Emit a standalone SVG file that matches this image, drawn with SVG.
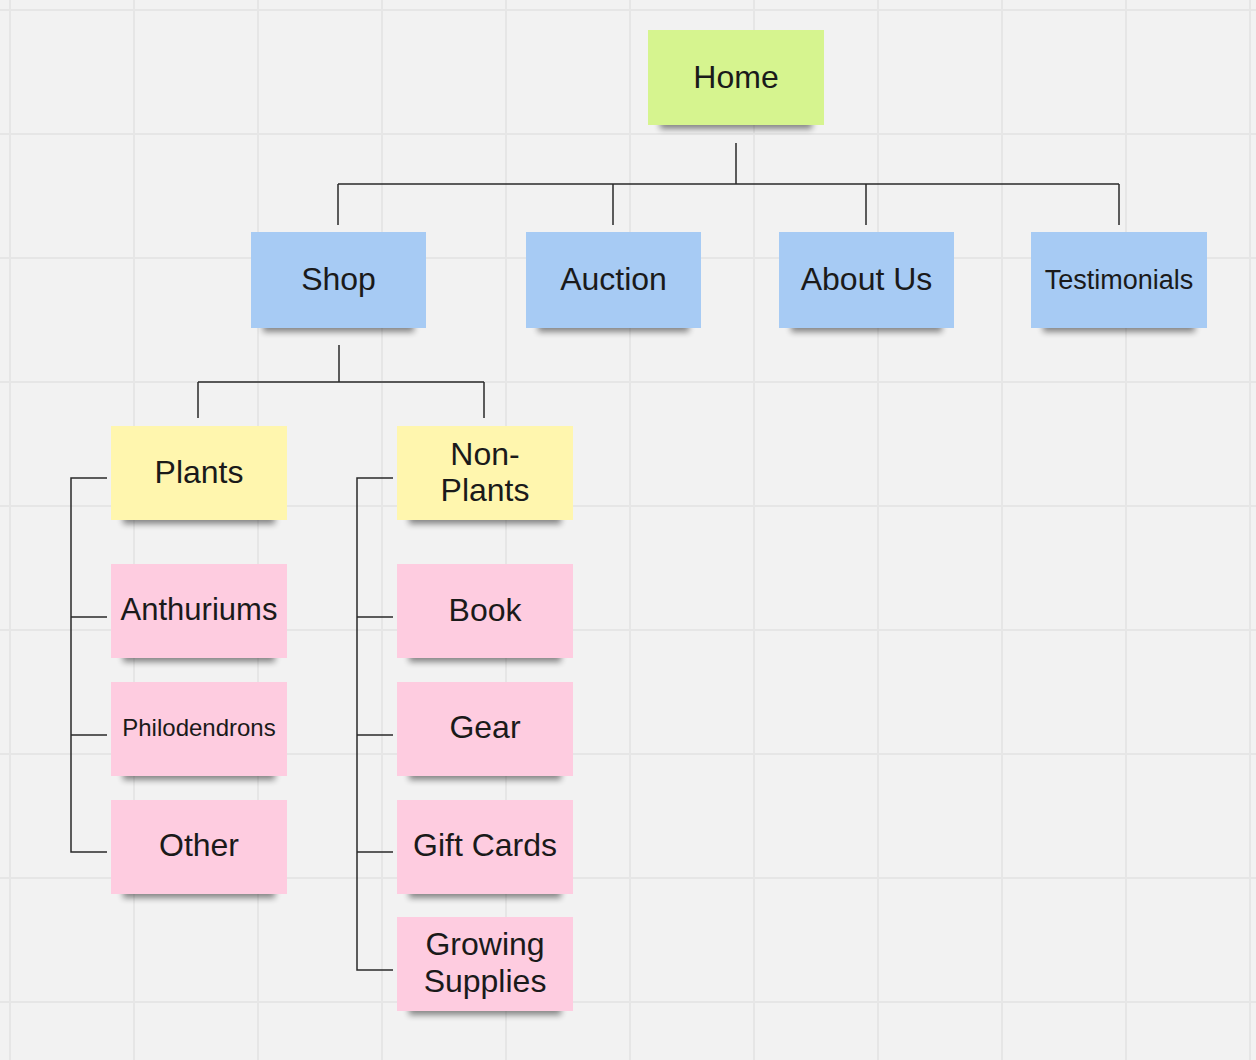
<svg xmlns="http://www.w3.org/2000/svg" width="1256" height="1060" viewBox="0 0 1256 1060">
<defs>
<filter id="sh" x="-20%" y="-100%" width="140%" height="300%"><feGaussianBlur stdDeviation="3"/></filter>
<style>
.bg{fill:#f2f2f2}
.grid{stroke:#e6e6e6;stroke-width:2}
.conn{fill:none;stroke:#2a2a2a;stroke-width:1.5}
.shadow{fill:#000;opacity:0.45;filter:url(#sh)}
.green{fill:#d6f48f}
.blue{fill:#a7cbf4}
.yellow{fill:#fff6ae}
.pink{fill:#fecce0}
text{font-family:"Liberation Sans",Arial,sans-serif;fill:#1a1a1a;text-anchor:middle;font-size:32px}
</style>
</defs>
<rect class="bg" width="1256" height="1060"/>
<g id="grid">
<path class="grid" d="M10 0V1060M134 0V1060M258 0V1060M382 0V1060M506 0V1060M630 0V1060M754 0V1060M878 0V1060M1002 0V1060M1126 0V1060M1250 0V1060M0 10H1256M0 134H1256M0 258H1256M0 382H1256M0 506H1256M0 630H1256M0 754H1256M0 878H1256M0 1002H1256"/>
</g>
<g id="connectors">
<path class="conn" d="M736 143V184M338 184H1119M338 184V225M613 184V225M866 184V225M1119 184V225"/>
<path class="conn" d="M339 345V382M198 382H484M198 382V418M484 382V418"/>
<path class="conn" d="M107 478H71V852H107M71 617H107M71 735H107"/>
<path class="conn" d="M393 478H357V970H393M357 617H393M357 735H393M357 852H393"/>
</g>
<g id="home"><rect class="shadow" x="660" y="115" width="152" height="14"/><rect class="green" x="648" y="30" width="176" height="95"/><text x="736" y="88">Home</text></g>
<g id="shop"><rect class="shadow" x="263" y="318" width="151" height="14"/><rect class="blue" x="251" y="232" width="175" height="96"/><text x="338.5" y="290">Shop</text></g>
<g id="auction"><rect class="shadow" x="538" y="318" width="151" height="14"/><rect class="blue" x="526" y="232" width="175" height="96"/><text x="613.5" y="290">Auction</text></g>
<g id="about-us"><rect class="shadow" x="791" y="318" width="151" height="14"/><rect class="blue" x="779" y="232" width="175" height="96"/><text x="866.5" y="290">About Us</text></g>
<g id="testimonials"><rect class="shadow" x="1043" y="318" width="152" height="14"/><rect class="blue" x="1031" y="232" width="176" height="96"/><text x="1119" y="289" style="font-size:27px">Testimonials</text></g>
<g id="plants"><rect class="shadow" x="123" y="510" width="152" height="14"/><rect class="yellow" x="111" y="426" width="176" height="94"/><text x="199" y="483">Plants</text></g>
<g id="anthuriums"><rect class="shadow" x="123" y="648" width="152" height="14"/><rect class="pink" x="111" y="564" width="176" height="94"/><text x="199" y="620" style="font-size:31px">Anthuriums</text></g>
<g id="philodendrons"><rect class="shadow" x="123" y="766" width="152" height="14"/><rect class="pink" x="111" y="682" width="176" height="94"/><text x="199" y="736" style="font-size:24px">Philodendrons</text></g>
<g id="other"><rect class="shadow" x="123" y="884" width="152" height="14"/><rect class="pink" x="111" y="800" width="176" height="94"/><text x="199" y="856">Other</text></g>
<g id="non-plants"><rect class="shadow" x="409" y="510" width="152" height="14"/><rect class="yellow" x="397" y="426" width="176" height="94"/><text x="485" y="465">Non-</text><text x="485" y="501">Plants</text></g>
<g id="book"><rect class="shadow" x="409" y="648" width="152" height="14"/><rect class="pink" x="397" y="564" width="176" height="94"/><text x="485" y="621">Book</text></g>
<g id="gear"><rect class="shadow" x="409" y="766" width="152" height="14"/><rect class="pink" x="397" y="682" width="176" height="94"/><text x="485" y="738">Gear</text></g>
<g id="gift-cards"><rect class="shadow" x="409" y="884" width="152" height="14"/><rect class="pink" x="397" y="800" width="176" height="94"/><text x="485" y="856">Gift Cards</text></g>
<g id="growing-supplies"><rect class="shadow" x="409" y="1001" width="152" height="14"/><rect class="pink" x="397" y="917" width="176" height="94"/><text x="485" y="955">Growing</text><text x="485" y="992">Supplies</text></g>
</svg>
